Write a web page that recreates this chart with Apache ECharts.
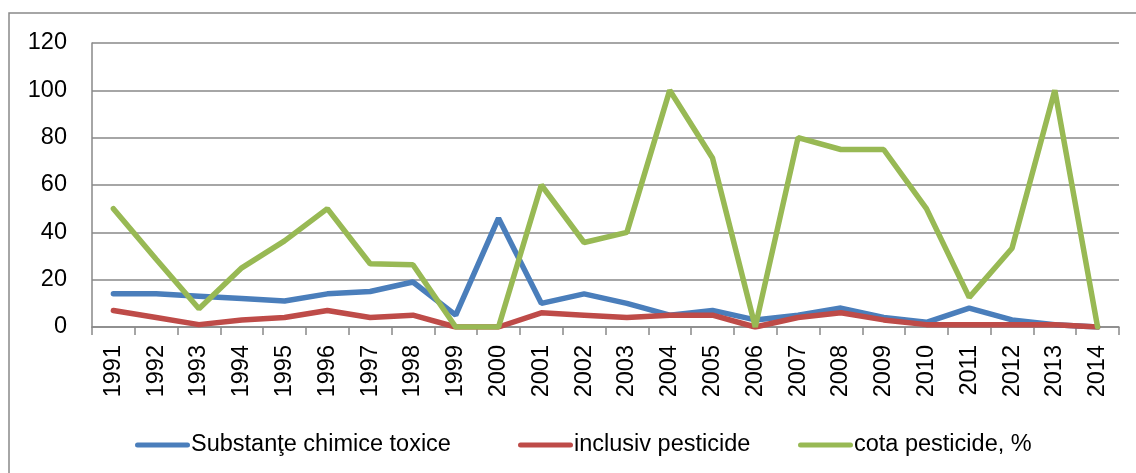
<!DOCTYPE html>
<html>
<head>
<meta charset="utf-8">
<script src="https://cdn.jsdelivr.net/npm/echarts@6/dist/echarts.min.js"></script>
<style>
html,body{margin:0;padding:0;background:#fff;}
#chart{width:1136px;height:473px;}
</style>
</head>
<body>
<div id="chart"></div>
<script>
const years = ['1991','1992','1993','1994','1995','1996','1997','1998','1999','2000','2001','2002','2003','2004','2005','2006','2007','2008','2009','2010','2011','2012','2013','2014'];
const substante = [14,14,13,12,11,14,15,19,5,46,10,14,10,5,7,3,5,8,4,2,8,3,1,0];
const pesticide = [7,4,1,3,4,7,4,5,0,0,6,5,4,5,5,0,4,6,3,1,1,1,1,0];
const cota = [50,28.6,7.7,25,36.4,50,26.7,26.3,0,0,60,35.7,40,100,71.4,0,80,75,75,50,12.5,33.3,100,0];
const yTicks = [0,20,40,60,80,100,120];

const names = ['Substanţe chimice toxice','inclusiv pesticide','cota pesticide, %'];
const colors = ['#4A7EBB','#BE4B48','#98B954'];
const FONT = 'Liberation Sans';
const chart = echarts.init(document.getElementById('chart'), null, {renderer:'canvas'});

function legendAt(i, left){
  return {
    data:[{name:names[i], icon:'path://M2.5,0 L52.5,0 A2.5,2.5 0 0 1 52.5,5 L2.5,5 A2.5,2.5 0 0 1 2.5,0 Z'}],
    left:left, top:428, itemWidth:55, itemHeight:5, itemGap:0,
    itemStyle:{color:colors[i]},
    textStyle:{fontFamily:FONT, fontSize:23.5, color:'#000', padding:[0,0,0,-4]},
    selectedMode:false
  };
}

chart.setOption({
  animation:false,
  color: colors,
  graphic:[{type:'rect', shape:{x:9, y:13, width:1200, height:600}, style:{fill:'none', stroke:'#898989', lineWidth:1.5}, silent:true}],
  grid:{left:92, right:17, top:43, bottom:146, containLabel:false},
  legend:[legendAt(0,130), legendAt(1,513), legendAt(2,793)],
  xAxis:{
    type:'category', data:years, boundaryGap:true,
    axisLine:{lineStyle:{color:'#898989', width:1.5}},
    axisTick:{show:true, length:8, alignWithLabel:false, interval:0, lineStyle:{color:'#898989', width:1.5}},
    axisLabel:{rotate:90, interval:0, margin:18, fontFamily:FONT, fontSize:23.5, color:'#000'},
    splitLine:{show:false}
  },
  yAxis:{
    type:'value', min:yTicks[0], max:yTicks[yTicks.length-1], interval:20,
    axisLine:{show:true, lineStyle:{color:'#898989', width:1.5}},
    axisTick:{show:false},
    axisLabel:{margin:25, fontFamily:FONT, fontSize:23.5, color:'#000'},
    splitLine:{lineStyle:{color:'#898989', width:1.5}}
  },
  series:[
    {name:names[0], type:'line', data:substante, symbol:'none', lineStyle:{width:5.5, color:colors[0], cap:'round'}, itemStyle:{color:colors[0]}},
    {name:names[1], type:'line', data:pesticide, symbol:'none', lineStyle:{width:5.5, color:colors[1], cap:'round'}, itemStyle:{color:colors[1]}},
    {name:names[2], type:'line', data:cota, symbol:'none', lineStyle:{width:5.5, color:colors[2], cap:'round'}, itemStyle:{color:colors[2]}}
  ]
});
</script>
</body>
</html>
